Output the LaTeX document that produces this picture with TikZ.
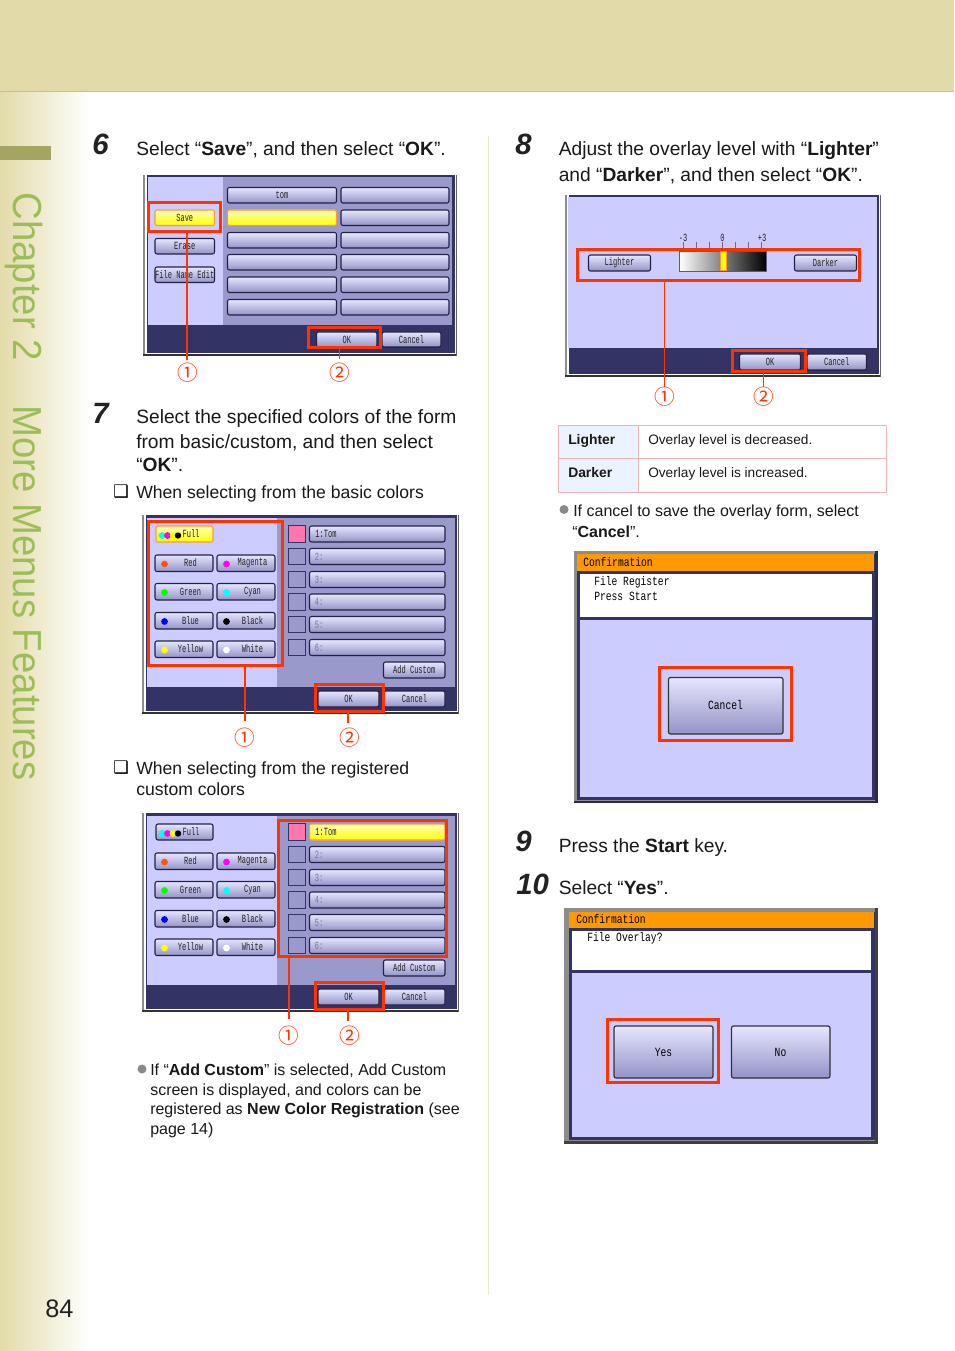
\documentclass[tikz,border=0pt]{standalone}
\usepackage{fontspec}
\usepackage{graphicx}
\usetikzlibrary{calc}
\setmainfont{Liberation Sans}
\newfontfamily\djv{DejaVu Sans}
\newfontfamily\cjkcirc{Noto Sans CJK JP}
\newfontfamily\scrSfam[FakeStretch=0.64]{Liberation Mono}
\newfontfamily\scrLfam[FakeStretch=0.77]{Liberation Mono}
\newcommand{\scrS}{\scrSfam\fontsize{8.25pt}{9pt}\selectfont}
\newcommand{\scrL}{\scrLfam\fontsize{9.4pt}{10pt}\selectfont}
\definecolor{hdr}{HTML}{E2DBA9}
\definecolor{hdrline}{HTML}{CDBE85}
\definecolor{olivebar}{HTML}{A3A660}
\definecolor{chapgreen}{HTML}{9DBD58}
\definecolor{seprule}{HTML}{EDE9CF}
\definecolor{scrlight}{HTML}{CCCCFF}
\definecolor{scrmid}{HTML}{9999CC}
\definecolor{scrdark}{HTML}{333366}
\definecolor{scrgray}{HTML}{8C8C8C}
\definecolor{scrline}{HTML}{333333}
\definecolor{scrorange}{HTML}{FF9900}
\definecolor{redmark}{HTML}{FF3300}
\definecolor{tablerule}{HTML}{E8B4B4}
\definecolor{tablecell}{HTML}{EAF3FF}
\definecolor{bulletgray}{HTML}{8A8A8A}
\definecolor{swpink}{HTML}{FF77AA}
\definecolor{dimtext}{HTML}{77779A}
\definecolor{inktext}{HTML}{222222}
\definecolor{btnedge}{HTML}{222244}
\definecolor{btntop}{HTML}{E6E6FF}
\definecolor{btnbot}{HTML}{9393C6}
\definecolor{btnorange}{HTML}{FF9933}
\definecolor{pureyellow}{HTML}{FFFF00}
\definecolor{paleyellow}{HTML}{FFFFBB}
\definecolor{purecyan}{HTML}{00FFFF}
\definecolor{puremagenta}{HTML}{FF00FF}
\definecolor{puregreen}{HTML}{00FF00}
\definecolor{pureblue}{HTML}{0000FF}
\definecolor{dotred}{HTML}{FF5511}
\tikzset{
  btnbox/.style={draw=btnedge,line width=0.8pt,rounded corners=1.5pt,top color=btntop,bottom color=btnbot},
  yellowbtn/.style={draw=btnorange,top color=paleyellow,bottom color=pureyellow},
  btntext/.style={inner sep=0pt,text=inktext,font=\scrS},
  btnbig/.style={inner sep=0pt,text=black,font=\scrL},
  swatch/.style={draw=scrdark,line width=0.6pt,fill=scrmid},
  redboxnode/.style={draw=redmark,line width=2.25pt,inner sep=0pt,outer sep=0pt,fill=none},
  redline/.style={draw=redmark,line width=1.3pt},
  thinredline/.style={draw=redmark,line width=0.75pt},
  circnum/.style={inner sep=0pt,text=redmark,font=\cjkcirc\fontsize{15.5pt}{16pt}\selectfont},
  stepnum/.style={anchor=base west,inner sep=0pt,text=inktext,font=\bfseries\itshape\fontsize{22pt}{22pt}\selectfont},
  mainline/.style={anchor=base west,inner sep=0pt,text=black!90,font=\fontsize{14.4pt}{16pt}\selectfont},
  subline/.style={anchor=base west,inner sep=0pt,text=black!90,font=\fontsize{13.2pt}{16pt}\selectfont},
  smallline/.style={anchor=base west,inner sep=0pt,text=black!90,font=\fontsize{12pt}{14pt}\selectfont},
  tablehead/.style={anchor=base west,inner sep=0pt,text=black!90,font=\fontsize{10.4pt}{12pt}\selectfont},
  tableline/.style={anchor=base west,inner sep=0pt,text=black!90,font=\fontsize{10.25pt}{12pt}\selectfont},
  scrlabel/.style={anchor=base west,inner sep=0pt,text=black,font=\scrL},
  chaptext/.style={rotate=-90,anchor=base west,inner sep=0pt,text=chapgreen,font=\fontsize{30.4pt}{32pt}\selectfont},
}
\newcount\autoid
\newcommand{\lbl}[4][]{\global\advance\autoid by 1 \node[#1] (auto\the\autoid) at (#2,#3) {#4};}
\newcommand{\btn}[6][]{\draw[btnbox,#1] (#2,#3) rectangle (#4,#5);\global\advance\autoid by 1 \node[btntext] (auto\the\autoid) at ($(#2,#3)!0.5!(#4,#5)$) {#6};}
\newcommand{\btnblank}[5][]{\draw[btnbox,#1] (#2,#3) rectangle (#4,#5);}
% outer frame of a screen: gray strip, white gap, dark body, dark rules
\newcommand{\scrframe}[4]{%
  \pgfmathsetmacro{\fa}{#1+2}\pgfmathsetmacro{\fb}{#1+3.5}\pgfmathsetmacro{\fc}{#3-2.5}\pgfmathsetmacro{\fd}{#4-2.7}%
  \pgfmathsetmacro{\fe}{#4-2}\pgfmathsetmacro{\ff}{#3-1.5}%
  \fill[scrgray] (#1,#2) rectangle (\fa,#4);
  \fill[scrdark] (\fb,#2) rectangle (\fc,\fd);
  \fill[scrline] (#1,\fe) rectangle (#3,#4);
  \fill[scrgray!70!black] (\ff,#2) rectangle (#3,#4);
}
% colour button: left x, top y, dot colour, label
\newcommand{\cbtn}[4]{%
  \pgfmathsetmacro{\xb}{#1+58}\pgfmathsetmacro{\yb}{#2+16.5}%
  \pgfmathsetmacro{\xd}{#1+9.5}\pgfmathsetmacro{\yd}{#2+9}\pgfmathsetmacro{\xt}{#1+35.5}\pgfmathsetmacro{\yt}{#2+8}%
  \draw[btnbox] (#1,#2) rectangle (\xb,\yb);
  \fill[#3] (\xd,\yd) circle (3.4);
  \global\advance\autoid by 1 \node[btntext] (auto\the\autoid) at (\xt,\yt) {#4};}
% red highlight box given by its outer edges
\newcommand{\redbox}[5]{%
  \pgfmathsetmacro{\rw}{(#4-#2-3)*0.75}\pgfmathsetmacro{\rh}{(#5-#3-3)*0.75}%
  \pgfmathsetmacro{\rx}{(#2+#4)/2}\pgfmathsetmacro{\ry}{(#3+#5)/2}%
  \node[redboxnode,minimum width=\rw pt,minimum height=\rh pt] (#1) at (\rx,\ry) {};}
% colour selection screen
\newcommand{\colorscreen}[2]{%
  \scrframe{142}{515}{459}{714}
  \fill[scrlight] (147,517.5) rectangle (277,686.5);
  \fill[scrmid] (277,517.5) rectangle (455,686.5);
  #1
  \fill[purecyan] (162,535.5) circle (3.4);
  \fill[puremagenta] (167.5,535.5) circle (3.4);
  \fill[pureyellow] (173,535.5) circle (3.4);
  \fill[black] (178,535.5) circle (3.2);
  \lbl[btntext]{191}{534}{Full}
  \cbtn{155}{555}{dotred}{Red}
  \cbtn{217}{555}{puremagenta}{Magenta}
  \cbtn{155}{583.5}{puregreen}{Green}
  \cbtn{217}{583.5}{purecyan}{Cyan}
  \cbtn{155}{612.5}{pureblue}{Blue}
  \cbtn{217}{612.5}{black}{Black}
  \cbtn{155}{641}{pureyellow}{Yellow}
  \cbtn{217}{641}{white}{White}
  \draw[swatch,fill=swpink] (288.5,525.5) rectangle (305,542);
  \draw[swatch] (288.5,548) rectangle (305,564.5);
  \draw[swatch] (288.5,571) rectangle (305,587.5);
  \draw[swatch] (288.5,593.5) rectangle (305,610);
  \draw[swatch] (288.5,616) rectangle (305,632.5);
  \draw[swatch] (288.5,639) rectangle (305,655.5);
  #2
  \lbl[btntext]{326}{534}{1:Tom}
  \btnblank{309.5}{548.5}{445}{564.5}
  \btnblank{309.5}{571.5}{445}{587.5}
  \btnblank{309.5}{594}{445}{610}
  \btnblank{309.5}{616.5}{445}{632.5}
  \btnblank{309.5}{639.5}{445}{655.5}
  \lbl[btntext,text=dimtext]{319}{556.5}{2:}
  \lbl[btntext,text=dimtext]{319}{579.5}{3:}
  \lbl[btntext,text=dimtext]{319}{602}{4:}
  \lbl[btntext,text=dimtext]{319}{624.5}{5:}
  \lbl[btntext,text=dimtext]{319}{647.5}{6:}
  \btn{383.5}{662}{445}{678}{Add Custom}
  \btn{318}{691}{379}{707}{OK}
  \btn{384}{691}{445}{707}{Cancel}
}
\begin{document}
\begin{tikzpicture}[x=0.75pt,y=-0.75pt]
\useasboundingbox (0,0) rectangle (954,1351);
% page background
\fill[white] (0,0) rectangle (954,1351);
\fill[left color=hdr,right color=white] (0,91) rectangle (90,1351);
\fill[hdr] (0,0) rectangle (954,91);
\fill[hdrline] (0,90.6) rectangle (954,92);
\fill[olivebar] (0,146) rectangle (51,160);
\lbl[chaptext]{13}{192}{\scalebox{0.948}[1]{Chapter 2}}
\lbl[chaptext]{13}{405}{\scalebox{0.946}[1]{More Menus Features}}
\lbl[anchor=base west,inner sep=0pt,text=inktext,font=\fontsize{19pt}{20pt}\selectfont]{45}{1317}{84}
\fill[seprule] (488,136) rectangle (489,1295);

% step 6
\lbl[stepnum]{92}{155}{6}
\lbl[mainline]{136}{156}{Select “\textbf{Save}”, and then select “\textbf{OK}”.}
\scrframe{143}{175}{457}{356}
\fill[scrlight] (148,177.5) rectangle (223,325.5);
\fill[scrmid] (223,177.5) rectangle (452,325.5);
\btn{227.5}{187.5}{336.5}{203}{tom}
\btnblank{341}{187.5}{449}{203}
\btnblank[yellowbtn]{227.5}{210}{336.5}{225.5}
\btnblank{341}{210}{449}{225.5}
\btnblank{227.5}{232.5}{336.5}{248}
\btnblank{341}{232.5}{449}{248}
\btnblank{227.5}{254.5}{336.5}{270}
\btnblank{341}{254.5}{449}{270}
\btnblank{227.5}{277}{336.5}{292.5}
\btnblank{341}{277}{449}{292.5}
\btnblank{227.5}{299.5}{336.5}{315}
\btnblank{341}{299.5}{449}{315}
\btn[yellowbtn]{155}{210}{214.5}{225.5}{Save}
\btn{155}{238.5}{214.5}{254}{Erase}
\btn{155}{267}{214.5}{282.5}{File Name Edit}
\btn{316.5}{332}{377}{347}{OK}
\btn{382}{332}{441}{347}{Cancel}
\redbox{rbsixa}{147}{201}{222}{233}
\redbox{rbsixb}{307}{326}{382}{349}
\node[circnum] (nsixa) at (188,373) {①};
\node[circnum] (nsixb) at (339.5,373) {②};
\draw[redline,shorten >=2pt] ([xshift=-0.75pt]nsixa.north |- rbsixa.south) -- ([xshift=-0.75pt]nsixa.north);
\draw[redline,shorten >=3pt] (nsixb.north |- rbsixb.south) -- (nsixb.north);

% step 7
\lbl[stepnum]{92}{423}{7}
\lbl[mainline]{136}{423}{Select the specified colors of the form}
\lbl[mainline]{136}{448}{from basic/custom, and then select}
\lbl[mainline]{136}{471}{“\textbf{OK}”.}
\lbl[anchor=base west,inner sep=0pt,font=\djv\fontsize{13pt}{14pt}\selectfont]{113}{497}{❑}
\lbl[subline]{136}{498}{When selecting from the basic colors}
\colorscreen{\btn[yellowbtn]{156}{526}{213}{542}{}}{\btnblank{309.5}{526}{445}{542}}
\redbox{rbsevena}{147}{520}{284}{667}
\redbox{rbsevenb}{314}{683}{385}{713}
\node[circnum] (nsevena) at (245,738) {①};
\node[circnum] (nsevenb) at (350,738) {②};
\draw[redline,shorten >=5pt] (nsevena.north |- rbsevena.south) -- (nsevena.north);
\draw[redline,shorten >=4pt] ([xshift=-1.5pt]nsevenb.north |- rbsevenb.south) -- ([xshift=-1.5pt]nsevenb.north);

\lbl[anchor=base west,inner sep=0pt,font=\djv\fontsize{13pt}{14pt}\selectfont]{113}{773}{❑}
\lbl[subline]{136}{774}{When selecting from the registered}
\lbl[subline]{136}{795}{custom colors}
\begin{scope}[shift={(0,298)}]
\colorscreen{\btn{156}{526}{213}{542}{}}{\btnblank[yellowbtn]{309.5}{526}{445}{542}}
\end{scope}
\redbox{rbcustoma}{277}{819}{448}{958}
\redbox{rbcustomb}{314}{981}{385}{1011}
\node[circnum] (ncustoma) at (289,1036) {①};
\node[circnum] (ncustomb) at (350,1036) {②};
\draw[redline,shorten >=5pt] (ncustoma.north |- rbcustoma.south) -- (ncustoma.north);
\draw[redline,shorten >=4pt] ([xshift=-1.5pt]ncustomb.north |- rbcustomb.south) -- ([xshift=-1.5pt]ncustomb.north);

\fill[bulletgray] (142,1069) circle (4.5);
\lbl[smallline]{150}{1075}{If “\textbf{Add Custom}” is selected, Add Custom}
\lbl[smallline]{150}{1095}{screen is displayed, and colors can be}
\lbl[smallline]{150}{1114}{registered as \textbf{New Color Registration} (see}
\lbl[smallline]{150}{1134}{page 14)}

% step 8
\lbl[stepnum]{515}{155}{8}
\lbl[mainline]{558.5}{156}{Adjust the overlay level with “\textbf{Lighter}”}
\lbl[mainline]{558.5}{182}{and “\textbf{Darker}”, and then select “\textbf{OK}”.}
\scrframe{565}{195}{881}{377}
\fill[scrlight] (568,197.5) rectangle (877,348);
\foreach \tx in {683.3,696.5,709.3,722.3,735.3,748.7,761.7}{\draw[scrmid!70!black,line width=0.5pt] (\tx,242) -- (\tx,248);}
\lbl[btntext]{683}{238}{-3}
\lbl[btntext]{722.5}{238}{0}
\lbl[btntext]{762}{238}{+3}
\fill[left color=white,right color=black] (679.5,251) rectangle (766,271);
\draw[scrmid!60!black,line width=0.6pt] (679.5,251) rectangle (766,271);
\draw[btnorange,fill=pureyellow,line width=0.6pt] (720,251) rectangle (726.5,270.5);
\btn{588.5}{255}{650.5}{271}{Lighter}
\btn{794.5}{255}{856.5}{271}{Darker}
\btn{739.5}{354}{800.5}{370}{OK}
\btn{807}{354}{866.5}{370}{Cancel}
\redbox{rbeighta}{576}{248}{861}{282}
\redbox{rbeightb}{731}{349}{807}{373}
\node[circnum] (neighta) at (664.5,397) {①};
\node[circnum] (neightb) at (764,397) {②};
\draw[thinredline] (neighta.north |- rbeighta.south) -- (neighta.north);
\draw[thinredline] ([xshift=-0.75pt]neightb.north |- rbeightb.south) -- ([xshift=-0.75pt]neightb.north);

% table
\fill[tablecell] (558.5,425) rectangle (638,492);
\draw[tablerule,line width=0.75pt] (558.5,425) rectangle (886,492);
\draw[tablerule,line width=0.75pt] (558.5,458) -- (886,458);
\draw[tablerule,line width=0.75pt] (638,425) -- (638,492);
\lbl[tablehead]{568}{444}{\textbf{Lighter}}
\lbl[tablehead]{568}{477}{\textbf{Darker}}
\lbl[tableline]{648}{444}{Overlay level is decreased.}
\lbl[tableline]{648}{477}{Overlay level is increased.}
\fill[bulletgray] (564,509.5) circle (4.5);
\lbl[smallline]{573}{516}{If cancel to save the overlay form, select}
\lbl[smallline]{572}{537}{“\textbf{Cancel}”.}

% cancel confirmation
\fill[scrgray] (574,551) rectangle (878,803);
\fill[scrdark!80!black] (875,551) rectangle (878,803);
\fill[scrdark!80!black] (574,800.5) rectangle (878,803);
\fill[scrdark] (577,554) rectangle (875,800);
\fill[scrorange] (577,554) rectangle (874,571);
\fill[white] (580,574) rectangle (872,617);
\fill[scrlight] (580,620) rectangle (872,797);
\lbl[scrlabel]{583}{566.5}{Confirmation}
\lbl[scrlabel]{594}{585}{File Register}
\lbl[scrlabel]{594}{600}{Press Start}
\btn[line width=0.9pt,draw=black!80,top color=btntop]{668.5}{677.5}{783}{734}{}
\lbl[btnbig]{725.5}{705.5}{Cancel}
\redbox{rbconf}{658}{666}{793}{742}

% step 9, 10
\lbl[stepnum]{515}{851}{9}
\lbl[mainline]{558.5}{852}{Press the \textbf{Start} key.}
\lbl[stepnum]{516}{894}{10}
\lbl[mainline]{558.5}{894}{Select “\textbf{Yes}”.}
\fill[scrgray] (564,908) rectangle (878,1143.5);
\fill[black!75] (875,908) rectangle (878,1143.5);
\fill[black!75] (564,1140.5) rectangle (878,1143.5);
\fill[scrdark] (568.5,912) rectangle (875,1140);
\fill[scrorange] (569,912) rectangle (874,928);
\fill[white] (572,931) rectangle (871,970);
\fill[scrlight] (572,973) rectangle (871,1137);
\lbl[scrlabel]{576}{923.5}{Confirmation}
\lbl[scrlabel]{587}{941}{File Overlay?}
\btn[line width=0.9pt,draw=black!80,top color=btntop]{614}{1026}{713}{1078}{}
\lbl[btnbig]{663.5}{1052}{Yes}
\btn[line width=0.9pt,draw=black!80,top color=btntop]{731.5}{1026}{830}{1078}{}
\lbl[btnbig]{780.5}{1052}{No}
\redbox{rbyes}{606}{1018}{720}{1084}
\end{tikzpicture}
\end{document}
